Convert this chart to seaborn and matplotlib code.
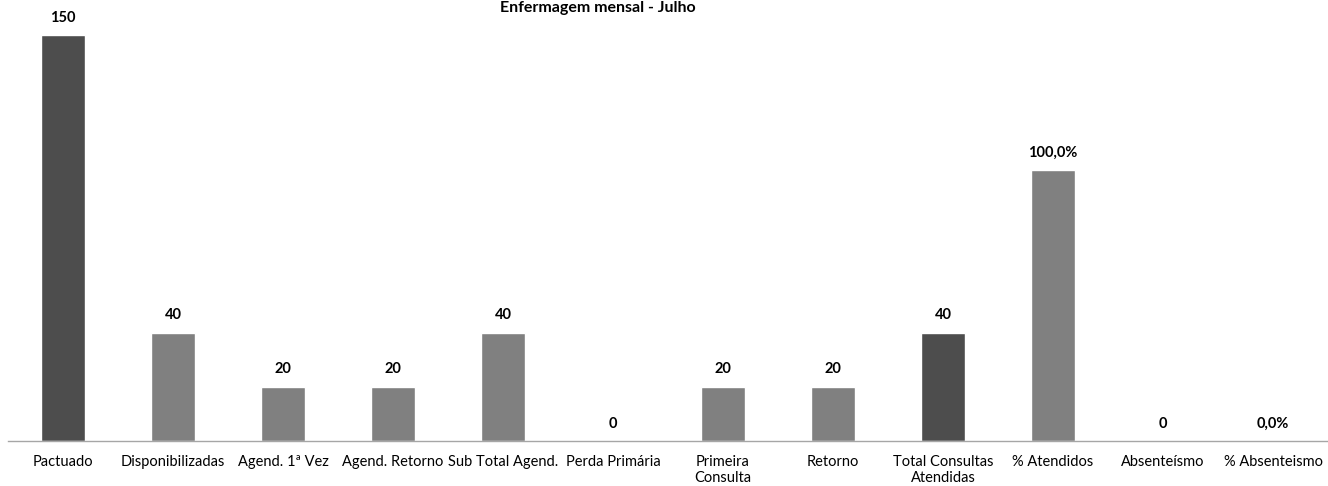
import numpy as np
import pandas as pd
import matplotlib
matplotlib.use("Agg")
import matplotlib.pyplot as plt
import seaborn as sns

# data
categorias = ["Pactuado", "Disponibilizadas", "Agend. 1ª Vez", "Agend. Retorno",
              "Sub Total Agend.", "Perda Primária", "Primeira\nConsulta", "Retorno",
              "Total Consultas\nAtendidas", "% Atendidos", "Absenteísmo", "% Absenteismo"]
valores = [150, 40, 20, 20, 40, 0, 20, 20, 40, 100, 0, 0]
rotulos = ["150", "40", "20", "20", "40", "0", "20", "20", "40", "100,0%", "0", "0,0%"]
cores = ["#4d4d4d", "#808080", "#808080", "#808080", "#808080", "#808080",
         "#808080", "#808080", "#4d4d4d", "#808080", "#808080", "#808080"]

df = pd.DataFrame({"cat": categorias, "valor": valores})

sns.set_style("white")
plt.rcParams["font.family"] = ["Lato", "DejaVu Sans"]

fig = plt.figure(figsize=(13.28, 4.86), dpi=100)
ax = fig.add_axes([8 / 1328, 1 - 441 / 486, 1 - 8 / 1328, (441 - 35) / 486])

sns.barplot(data=df, x="cat", y="valor", hue="cat", palette=cores, legend=False,
            width=0.4, saturation=1, ax=ax)

for cont, lab in zip(ax.containers, rotulos):
    ax.bar_label(cont, labels=[lab], padding=7.5, fontsize=10.5, fontweight="bold", color="#000000")

ax.set_xlim(-0.5, len(categorias) - 0.5)
ax.set_ylim(0, 150)
ax.set_xlabel("")
ax.set_ylabel("")
ax.set_yticks([])
for s in ["top", "right", "left"]:
    ax.spines[s].set_visible(False)
ax.spines["bottom"].set_color("#a6a6a6")
ax.spines["bottom"].set_linewidth(1)

ax.set_xticks(range(len(categorias)))
ax.set_xticklabels(categorias, fontsize=10.5, color="#000000", linespacing=1.2)
ax.tick_params(axis="x", which="major", length=0, pad=10)
ax.set_xticks(np.arange(-0.5, len(categorias)), minor=True)
ax.tick_params(axis="x", which="minor", length=4, width=1, color="#a6a6a6", direction="out")

fig.text(598 / 1328, 1 - 12 / 486, "Enfermagem mensal - Julho", ha="center", va="baseline",
         fontsize=11.5, fontweight="bold", color="#000000")

fig.savefig("out.png", dpi=100)
